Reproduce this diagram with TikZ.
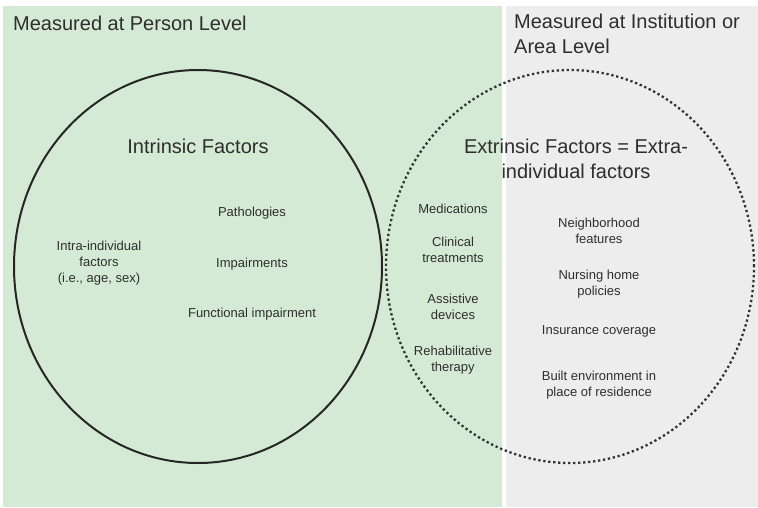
\documentclass[tikz,border=0pt]{standalone}
\usepackage{fontspec}
\setmainfont{Liberation Sans}
\usetikzlibrary{shapes.geometric}
\definecolor{personbg}{HTML}{D5EAD4}
\definecolor{areabg}{HTML}{EDEDED}
\definecolor{ink}{HTML}{2E2E2E}

\begin{document}
\begin{tikzpicture}[
        x=1pt, y=-1pt,
        every node/.style={text=ink, align=center, inner sep=0pt, font=\fontsize{13}{16.2}\selectfont},
        heading/.style={font=\fontsize{20}{25}\selectfont},
        region/.style={ellipse, minimum width=368pt, minimum height=393pt},
      ]

      \useasboundingbox (0,0) rectangle (758,507);
      \fill[personbg] (3,6) rectangle (502,507);
      \fill[areabg] (506,6) rectangle (758,507);

      \node[region, draw=black!85, line width=2pt] (intrinsic) at (198,266.5) {};
      \node[region, draw=black!80, line width=2.3pt, dash pattern=on 2.3pt off 2.7pt] (extrinsic) at (570,266.5) {};

      \node[heading, anchor=west] (person) at (13,23) {Measured at Person Level};
      \node[heading, anchor=north west, align=left] (area) at (514,14) {Measured at Institution or\\Area Level};

      \node[heading] (intrtitle) at (198,146) {Intrinsic Factors};
      \node[heading] (extrtitle) at (576,158.5) {Extrinsic Factors = Extra-\\individual factors};

      \node (intra) at (99,263) {Intra-individual\\factors\\(i.e., age, sex)};
      \node (patho) at (252,213) {Pathologies};
      \node (impair) at (252,264) {Impairments};
      \node (funct) at (252,314) {Functional impairment};

      \node (meds) at (453,209) {Medications};
      \node (clinic) at (453,250) {Clinical\\treatments};
      \node (assist) at (453,306.5) {Assistive\\devices};
      \node (rehab) at (453,360) {Rehabilitative\\therapy};

      \node (neigh) at (599,231) {Neighborhood\\features};
      \node (nursing) at (599,284) {Nursing home\\policies};
      \node (insure) at (599,331) {Insurance coverage};
      \node (built) at (599,385.5) {Built environment in\\place of residence};

    \end{tikzpicture}
\end{document}
